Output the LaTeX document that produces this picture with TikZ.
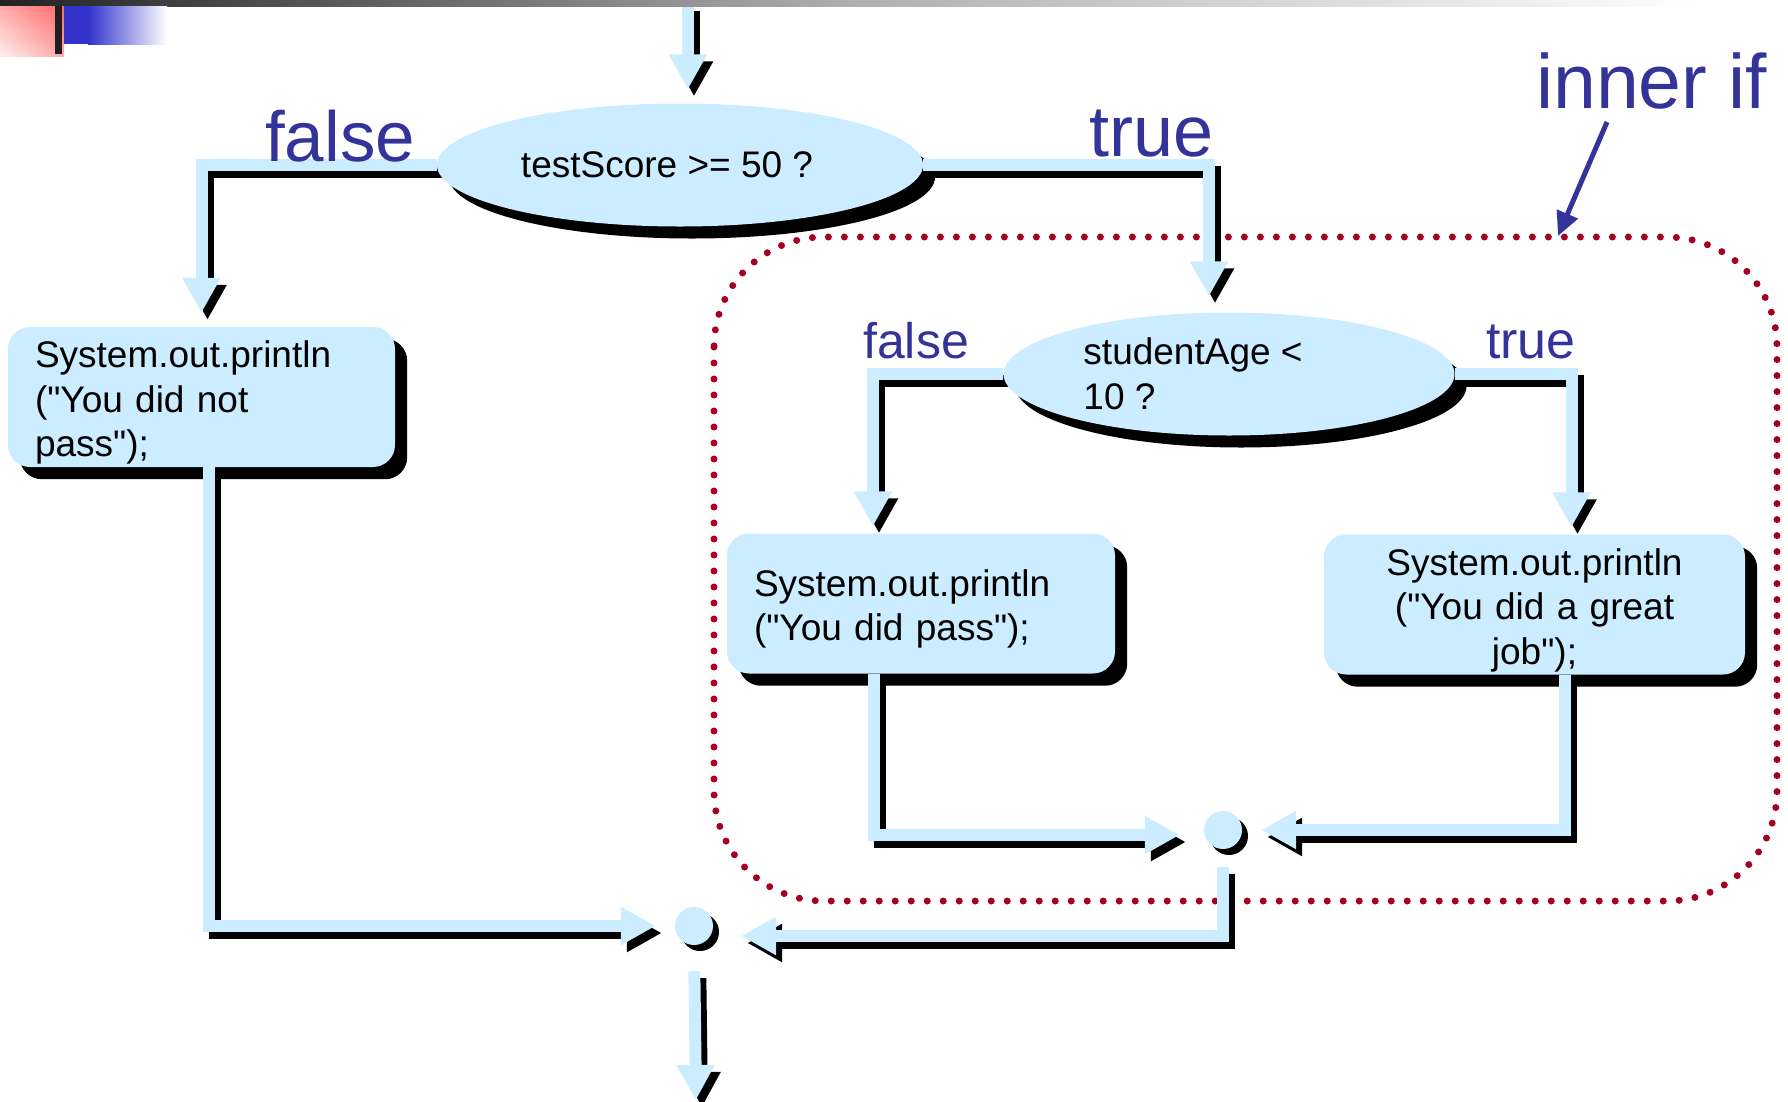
\documentclass[tikz,border=0pt]{standalone}
\usepackage{fontspec}
\setmainfont{Liberation Sans}
\newfontfamily\codefont{Liberation Sans}
\usetikzlibrary{arrows.meta, positioning, calc, shapes.geometric, shadings}
\definecolor{flowblue}{RGB}{204,236,255}
\definecolor{labelblue}{RGB}{51,51,153}
\definecolor{dotred}{RGB}{165,0,33}
\definecolor{cornerblue}{RGB}{51,51,204}
\definecolor{bardark}{RGB}{34,34,34}
\definecolor{barmid}{RGB}{175,175,175}
\definecolor{pinkhi}{RGB}{255,102,102}
\definecolor{pinkmid}{RGB}{255,170,170}
\definecolor{pinklo}{RGB}{255,238,238}
\pgfdeclarelayer{back}
\pgfdeclarelayer{lines}
\pgfsetlayers{back,lines,main}

\begin{document}
\begin{tikzpicture}[x=1pt, y=-1pt,
  cond/.style={ellipse, fill=flowblue, inner sep=0pt, minimum width=#1, minimum height=123pt},
  stmt/.style={rectangle, rounded corners=22pt, fill=flowblue, inner xsep=27pt, inner ysep=0pt,
               minimum height=140pt, font=\codefont\fontsize{37}{44.5}\selectfont, align=left,
               text height=38pt},
  code/.style={font=\codefont\fontsize{37}{44.5}\selectfont, inner sep=0pt},
  joint/.style={circle, fill=flowblue, minimum size=38pt, inner sep=0pt},
  branch/.style={text=labelblue, inner sep=0pt, anchor=base west},
  flow/.style={draw=flowblue, line width=12pt, -{Triangle[length=35pt, width=36pt]},
               preaction={draw=black, line width=12pt, transform canvas={shift={(6pt,-7pt)}}}}]
\useasboundingbox (0,0) rectangle (1788,1101);

% slide corner
\shade[left color=bardark, right color=white, middle color=barmid] (0,0) rectangle (1700,6);
\shade[upper right=pinkhi, lower left=pinklo, upper left=pinkmid, lower right=pinkmid]
       (0,6) rectangle (64,56);
\fill[black!88] (55,6) rectangle (62,54);
\fill[cornerblue] (64,6) rectangle (88,44);
\shade[left color=cornerblue, right color=white] (88,6) rectangle (167,44);

% decisions and statements
\node[cond=486pt] (test) at (680,165) {};
\node[code] at ([xshift=-13pt]test) {testScore >= 50 ?};
\node[cond=451pt] (age) at (1229,374) {};
\node[code, align=left] at ([xshift=-36pt]age) {studentAge <\\10 ?};
\node[stmt, text width=333pt] (nopass) at (201.5,397) {System.out.println\\("You did not\\pass");};
\node[stmt, text width=334pt] (pass) at (921,603.5) {System.out.println\\("You did pass");};
\node[stmt, text width=367pt, align=center] (great) at (1534.5,604.5) {System.out.println\\("You did a great\\job");};
\node[joint] (join1) at (1223,830) {};
\node[joint] (join2) at (694,926) {};
\coordinate (in) at (688,4);
\coordinate (out) at (696,1100);

% branch labels
\node[branch, font=\fontsize{71}{71}\selectfont] (false1) at (265,161) {false};
\node[branch, font=\fontsize{72}{72}\selectfont] (true1) at (1089,156) {true};
\node[branch, font=\fontsize{50}{50}\selectfont] (false2) at (863,358) {false};
\node[branch, font=\fontsize{52}{52}\selectfont] (true2) at (1486,358) {true};
\node[branch, font=\fontsize{77}{77}\selectfont] (inner) at (1536,108) {inner if};
\coordinate (ptrfrom) at (1607,122);
\coordinate (ptrto) at (1558,236);
\draw[labelblue, line width=5pt, -{Triangle[length=24pt, width=22pt]}] (ptrfrom) -- (ptrto);

\begin{pgfonlayer}{back}
\draw[dotred, line width=7pt, dash pattern=on 0pt off 16pt, line cap=round, rounded corners=110pt]
  (714,237) rectangle (1777,901);
\fill ([shift={(12,12)}]test) ellipse [x radius=243, y radius=61.5];
\fill ([shift={(12,12)}]age) ellipse [x radius=225.5, y radius=61.5];
\fill[rounded corners=22pt] ([shift={(12,12)}]nopass.north west) rectangle ([shift={(12,12)}]nopass.south east);
\fill[rounded corners=22pt] ([shift={(12,12)}]pass.north west) rectangle ([shift={(12,12)}]pass.south east);
\fill[rounded corners=22pt] ([shift={(12,12)}]great.north west) rectangle ([shift={(12,12)}]great.south east);
\fill ([shift={(6,6)}]join1) circle [radius=19];
\fill ([shift={(6,6)}]join2) circle [radius=19];
\end{pgfonlayer}

\begin{pgfonlayer}{lines}
\draw[flow, shorten >=14pt] (in) -- (in |- test.north);
\draw[flow, shorten >=14pt] (test.west) -| (nopass);
\draw[flow, shorten >=16pt] (test.east) -| ($(age.north)+(-20,0)$);
\draw[flow, shorten >=7pt] (age.west) -| ($(pass.north)+(-48,0)$);
\draw[flow, shorten >=7pt] (age.east) -| ($(great.north)+(37,0)$);
\draw[flow, shorten >=19pt] ($(nopass.south)+(7,0)$) |- (join2);
\draw[flow] ($(pass.south)+(-47,0)$) |- ($(join1.west)+(-24,5)$);
\draw[flow, shorten >=19pt] ($(great.south)+(30,0)$) |- (join1);
\draw[flow, shorten <=18pt] (join1.south) |- ($(join2.east)+(28,10)$);
\draw[flow, shorten <=26pt] (join2.south) -- (out);
\end{pgfonlayer}
\end{tikzpicture}
\end{document}
